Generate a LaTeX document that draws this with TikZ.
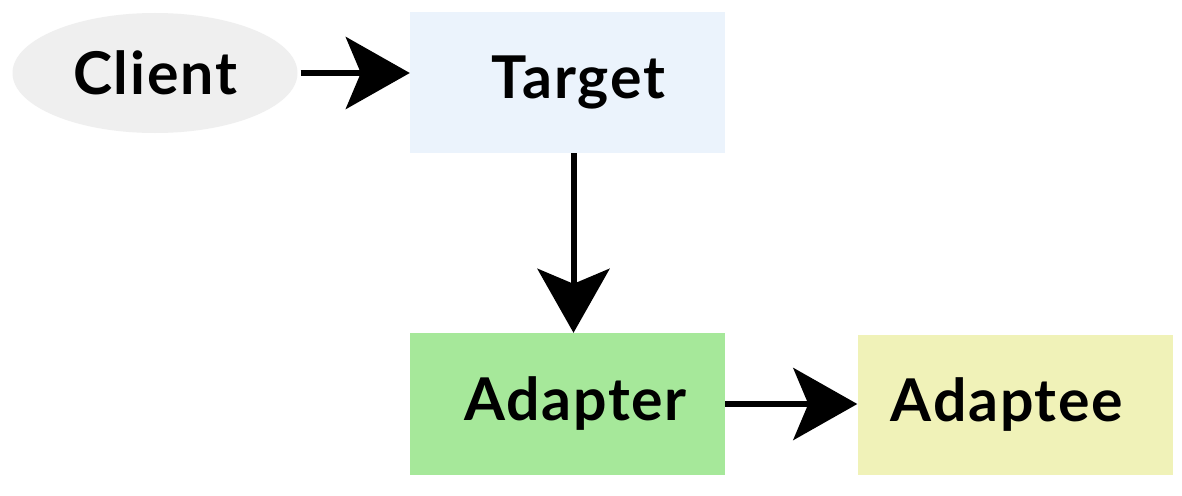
\documentclass[tikz,border=0pt]{standalone}
\usepackage{fontspec}
\setmainfont{Lato}[LetterSpace=3]
\usetikzlibrary{shapes.geometric,arrows.meta,calc}
\definecolor{clientgray}{HTML}{EFEFEF}
\definecolor{targetblue}{HTML}{EBF3FC}
\definecolor{adaptergreen}{HTML}{A6E89A}
\definecolor{adapteeyellow}{HTML}{F0F2B8}
\begin{document}
\begin{tikzpicture}[x=1pt,y=-1pt,
  lbl/.style={font=\fontsize{59}{62}\selectfont\bfseries, text=black, inner sep=0pt},
  boxnode/.style={lbl, draw=none, minimum width=315pt, minimum height=141pt},
  arr/.style={line width=6pt, -{Stealth[length=64pt,width=72pt,inset=15pt]}}
]
\useasboundingbox (0,0) rectangle (1182,495);
\fill[white] (0,0) rectangle (1182,495);
\node[lbl, ellipse, fill=clientgray, minimum width=285pt, minimum height=120pt] (client) at (155,73) {Client};
\node[boxnode, fill=targetblue] (target) at (567.5,82.5) {\hspace*{22pt}Target};
\node[boxnode, fill=adaptergreen, minimum height=142pt] (adapter) at (567.5,404) {\hspace*{16pt}Adapter};
\node[boxnode, fill=adapteeyellow, minimum height=140pt] (adaptee) at (1015,405) {Adaptee\hspace*{16pt}};
\draw[arr, shorten <=3pt] (client.east) -- (client.east -| target.west);
\draw[arr] ($(target.south)+(6,0)$) -- ($(adapter.north)+(6,0)$);
\draw[arr] (adapter.east) -- (adapter.east -| adaptee.west);
\end{tikzpicture}
\end{document}
